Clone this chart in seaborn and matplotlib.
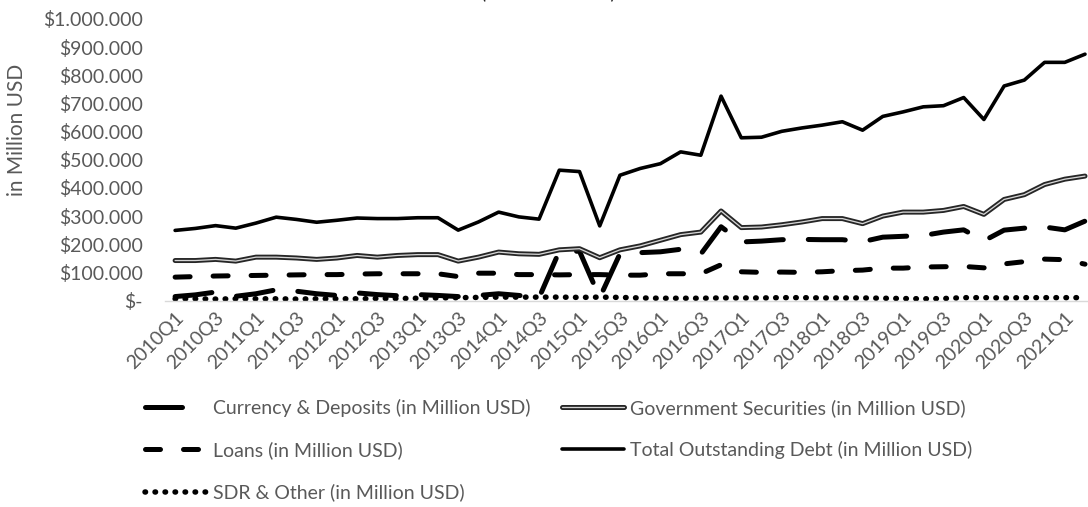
import matplotlib
matplotlib.use("Agg")
import matplotlib.pyplot as plt
import matplotlib.patheffects as pe
import matplotlib.ticker as mticker
import seaborn as sns

# Quarterly external debt components, in million USD
quarters = [f"{y}Q{q}" for y in range(2010, 2022) for q in range(1, 5)][:46]

currency_deposits = [14000, 20000, 30000, 15000, 24000, 38000, 33000, 24000, 18000, 27000,
                     21000, 17000, 21000, 18000, 14000, 18000, 24000, 18000, 10000, 175000,
                     175000, 10000, 166000, 170000, 173000, 182000, 165000, 262000, 208000, 211000,
                     216000, 217000, 216000, 216000, 209000, 225000, 228000, 231000, 243000, 251000,
                     212000, 250000, 257000, 261000, 251000, 282000]

government_securities = [142000, 142000, 146000, 140000, 154000, 154000, 151000, 146000, 151000, 160000,
                         154000, 160000, 163000, 163000, 140000, 154000, 172000, 166000, 164000, 180000,
                         184000, 152000, 180000, 194000, 214000, 234000, 243000, 318000, 259000, 261000,
                         269000, 279000, 291000, 291000, 273000, 300000, 314000, 314000, 320000, 334000,
                         306000, 359000, 376000, 412000, 431000, 442000]

loans = [83000, 85000, 87000, 88000, 89000, 90000, 91000, 92000, 92000, 94000,
         95000, 95000, 95000, 95000, 85000, 97000, 97000, 92000, 92000, 91000,
         92000, 92000, 90000, 90000, 95000, 95000, 95000, 127000, 102000, 100000,
         101000, 100000, 102000, 106000, 108000, 115000, 115000, 119000, 120000, 121000,
         116000, 130000, 138000, 147000, 145000, 129000]

total_debt = [249000, 256000, 266000, 257000, 275000, 296000, 288000, 278000, 285000, 293000,
              291000, 291000, 294000, 294000, 250000, 279000, 314000, 297000, 289000, 463000,
              458000, 265000, 445000, 469000, 486000, 528000, 516000, 726000, 578000, 580000,
              601000, 613000, 623000, 635000, 605000, 654000, 670000, 688000, 692000, 721000,
              643000, 762000, 783000, 846000, 846000, 875000]

sdr_other = [6000, 6000, 5000, 6000, 6000, 6000, 5000, 6000, 6000, 6000,
             7000, 7000, 8000, 9000, 10000, 11000, 12000, 12000, 12000, 12000,
             11000, 12000, 11000, 9000, 8000, 8000, 8000, 9000, 9000, 9000,
             10000, 10000, 9000, 9000, 9000, 8000, 7000, 6000, 7000, 10000,
             10000, 9000, 10000, 10000, 10000, 10000]

labels = {
    "cd": "Currency & Deposits (in Million USD)",
    "gs": "Government Securities (in Million USD)",
    "ln": "Loans (in Million USD)",
    "td": "Total Outstanding Debt (in Million USD)",
    "sdr": "SDR & Other (in Million USD)",
}

sns.set_theme(style="white")
plt.rcParams["font.family"] = ["Lato", "DejaVu Sans"]
GREY = "#595959"

W, H = 1088, 507
fig = plt.figure(figsize=(W / 100, H / 100), dpi=100)
left_px, right_px, top_px, base_px = 165, 1088, 19, 300.5
ax = fig.add_axes([left_px / W, (H - base_px) / H, (right_px - left_px) / W, (base_px - top_px) / H])

xpos = list(range(len(quarters)))
px2pt = 0.72

series = [
    ("cd", currency_deposits, dict(lw=5 * px2pt, linestyle=(0, (7.4, 5.0)))),
    ("ln", loans, dict(lw=5 * px2pt, linestyle=(0, (3.0, 4.6)))),
    ("sdr", sdr_other, dict(lw=5.5 * px2pt, linestyle=(0, (0.1, 1.72)))),
    ("gs", government_securities, dict(lw=1.3 * px2pt, color="#d6d6d6",
                                        path_effects=[pe.Stroke(linewidth=5 * px2pt, foreground="#262626"),
                                                      pe.Normal()])),
    ("td", total_debt, dict(lw=3.6 * px2pt, linestyle="-")),
]

handles = {}
for key, vals, style in series:
    kw = dict(color="black", dash_capstyle="round", solid_capstyle="round", solid_joinstyle="round")
    kw.update(style)
    sns.lineplot(x=xpos, y=vals, ax=ax, label=labels[key], **kw)
    handles[key] = ax.lines[-1]

if ax.get_legend() is not None:
    ax.get_legend().remove()

ax.set_ylim(0, 1_000_000)
ax.set_xlim(-0.5, -0.5 + (right_px - left_px) / 20.22)
ax.yaxis.set_major_locator(mticker.MultipleLocator(100_000))


def money(v, _pos):
    if abs(v) < 1:
        return "$-"
    return "$" + f"{int(round(v)):,}".replace(",", ".")


ax.yaxis.set_major_formatter(mticker.FuncFormatter(money))
ax.set_xticks(xpos[::2])
ax.set_xticklabels(quarters[::2], rotation=45, ha="right", rotation_mode="anchor")
ax.tick_params(axis="both", length=0, labelcolor=GREY, labelsize=14)
ax.tick_params(axis="y", pad=16)
ax.tick_params(axis="x", pad=6)

for side in ("left", "right", "top"):
    ax.spines[side].set_visible(False)
ax.spines["bottom"].set_color("#d9d9d9")
ax.spines["bottom"].set_linewidth(1.0)
ax.grid(False)

ax.set_xlabel("")
ax.set_ylabel("in Million USD", color=GREY, fontsize=15)
ax.yaxis.set_label_coords((27 - left_px) / (right_px - left_px), (base_px - 130) / (base_px - top_px))

# Two legend columns laid out row by row
leg_kw = dict(frameon=False, loc="upper left", fontsize=14, labelcolor=GREY,
              handlelength=3.2, handletextpad=0.3, labelspacing=1.25, borderaxespad=0, borderpad=0)
fig.legend([handles["cd"], handles["ln"], handles["sdr"]],
           [labels["cd"], labels["ln"], labels["sdr"]],
           bbox_to_anchor=(145 / W, 1 - 399 / H), **leg_kw)
fig.legend([handles["gs"], handles["td"]],
           [labels["gs"], labels["td"]],
           bbox_to_anchor=(562 / W, 1 - 399 / H), **leg_kw)

fig.text(548 / W, 1 + 2 / H, "(in Million USD)", ha="center", va="baseline", fontsize=14, color="#262626")

fig.savefig("out.png", dpi=100)
